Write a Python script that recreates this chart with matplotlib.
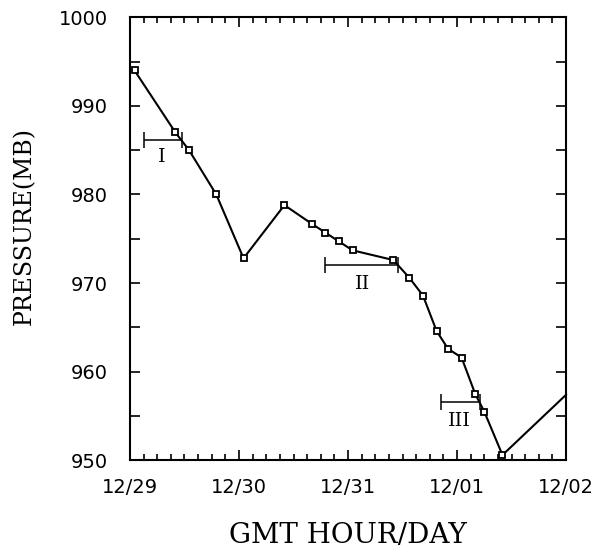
import matplotlib
matplotlib.use("Agg")
import matplotlib.pyplot as plt
from matplotlib.ticker import MultipleLocator

# central pressure, hours after 12/29 00Z
hours = [1, 10, 13, 19, 25, 34, 40, 43, 46, 49, 58, 61.5, 64.5, 67.5, 70, 73, 76, 78, 82, 96]
pressure = [994.0, 987.0, 985.0, 980.0, 972.8, 978.8, 976.7, 975.7, 974.7, 973.7,
            972.6, 970.6, 968.6, 964.6, 962.6, 961.6, 957.5, 955.5, 950.6, 957.4]

# stage intervals I, II, III
stage_names = ['I', 'II', 'III']
stage_start = [3, 43, 68.4]
stage_end = [11.5, 59, 77]
stage_p = [986.1, 972.1, 956.6]
stage_label_x = [7, 51.3, 72.5]
stage_label_y = [984.2, 969.9, 954.4]

day_ticks = [0, 24, 48, 72, 96]
day_labels = ['12/29', '12/30', '12/31', '12/01', '12/02']

fig = plt.figure(figsize=(5.99, 5.56), dpi=100)
ax = fig.add_axes([0.217, 0.172, 0.728, 0.797])

ax.plot(hours, pressure, color='black', lw=1.5, marker='s', markersize=5,
        markerfacecolor='white', markeredgecolor='black', markeredgewidth=1.3,
        markevery=list(range(len(hours) - 1)), clip_on=False, zorder=3)

for x0, x1, p, name, lx, ly in zip(stage_start, stage_end, stage_p, stage_names,
                                   stage_label_x, stage_label_y):
    ax.errorbar((x0 + x1) / 2, p, xerr=(x1 - x0) / 2, color='black', lw=1.1,
                capsize=6, capthick=1.1, fmt='none')
    ax.text(lx, ly, name, ha='center', va='center', fontsize=14, family='DejaVu Serif')

ax.set_xlim(0, 96)
ax.set_ylim(950, 1000)
ax.set_xticks(day_ticks)
ax.set_xticklabels(day_labels)
ax.xaxis.set_minor_locator(MultipleLocator(3))
ax.set_yticks([950, 960, 970, 980, 990, 1000])
ax.yaxis.set_minor_locator(MultipleLocator(5))

ax.tick_params(which='both', direction='in', top=True, right=True, labelsize=14, width=1.2)
ax.tick_params(axis='x', which='major', length=7, pad=13)
ax.tick_params(axis='x', which='minor', length=4)
ax.tick_params(axis='y', which='both', length=7, pad=16)

for s in ax.spines.values():
    s.set_linewidth(1.5)

ax.set_xlabel('GMT HOUR/DAY', fontsize=20, family='DejaVu Serif', labelpad=18)
ax.set_ylabel('PRESSURE(MB)', fontsize=17, family='DejaVu Serif')
ax.yaxis.set_label_coords(-0.215, 0.53)

fig.savefig('out.png', dpi=100)
